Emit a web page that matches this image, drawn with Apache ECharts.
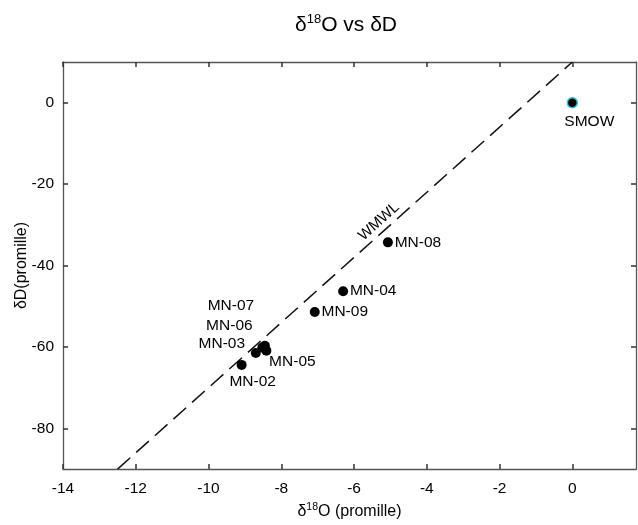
<!DOCTYPE html>
<html>
<head>
<meta charset="utf-8">
<script src="https://cdn.jsdelivr.net/npm/echarts@6/dist/echarts.min.js"></script>
<style>html,body{margin:0;padding:0;background:#fff;}#c{width:638px;height:525px;}</style>
</head>
<body>
<div id="c"></div>
<script>
// ---- data ----
var sampleNames = ['MN-02', 'MN-03', 'MN-05', 'MN-06', 'MN-07', 'MN-04', 'MN-09', 'MN-08'];
var sampleO18   = [-9.09, -8.70, -8.41, -8.52, -8.45, -6.30, -7.08, -5.07];
var sampleD     = [-64.4, -61.5, -60.9, -60.1, -59.7, -46.3, -51.4, -34.3];
var smowName = 'SMOW';
var smowO18 = [0];
var smowD = [0];
var wmwlO18 = [-12.5, 0];
var wmwlD = [-90, 10];
var wmwlLabelO18 = [-5.13];
var wmwlLabelD = [-31.0];
var xTicks = [-14, -12, -10, -8, -6, -4, -2, 0];
var yTicks = [-80, -60, -40, -20, 0];

// ---- label placement (style) ----
var labelOffsets = {
  'MN-02': [11, 17],
  'MN-03': [-34, -9],
  'MN-05': [26, 11],
  'MN-06': [-33, -22],
  'MN-07': [-34, -40],
  'MN-04': [30, 0],
  'MN-09': [30, 0],
  'MN-08': [30, 0]
};

var font = 'Liberation Sans, Arial, sans-serif';
var fs = 15.5;
var txt = '#000';

var samplesData = sampleNames.map(function (n, i) {
  return {
    name: n,
    value: [sampleO18[i], sampleD[i]],
    label: { offset: labelOffsets[n] }
  };
});

var wmwlData = wmwlO18.map(function (x, i) { return [x, wmwlD[i]]; });

var axisCommon = {
  type: 'value',
  axisLine: { show: true, onZero: false, lineStyle: { color: '#555', width: 1.3 } },
  axisTick: { show: true, inside: true, length: 5, lineStyle: { color: '#333', width: 1.5 } },
  splitLine: { show: false }
};

var chart = echarts.init(document.getElementById('c'));
chart.setOption({
  backgroundColor: '#fff',
  animation: false,
  title: {
    text: '{t|δ}{s|18}{t|O vs δD}',
    left: 290,
    top: 5,
    textStyle: {
      fontWeight: 'normal',
      rich: {
        t: { fontFamily: font, fontSize: 21, fontWeight: 'normal', color: txt, verticalAlign: 'bottom', lineHeight: 26 },
        s: { fontFamily: font, fontSize: 13, fontWeight: 'normal', color: txt, verticalAlign: 'bottom', lineHeight: 26, padding: [0, 0, 10, 0] }
      }
    }
  },
  grid: { left: 63, right: 2, top: 62, bottom: 52, containLabel: false },
  xAxis: [
    Object.assign({}, axisCommon, {
      min: -14, max: 1.75,
      position: 'bottom',
      axisTick: Object.assign({}, axisCommon.axisTick, { customValues: xTicks }),
      axisLabel: { customValues: xTicks, fontFamily: font, fontSize: fs, color: txt, margin: 12 },
      name: '{t|δ}{s|18}{t|O (promille)}',
      nameLocation: 'middle',
      nameGap: 30,
      nameTextStyle: {
        rich: {
          t: { fontFamily: font, fontSize: 16, color: txt, verticalAlign: 'bottom', lineHeight: 20 },
          s: { fontFamily: font, fontSize: 10.5, color: txt, verticalAlign: 'bottom', lineHeight: 20, padding: [0, 0, 7, 0] }
        }
      }
    }),
    Object.assign({}, axisCommon, {
      min: -14, max: 1.75,
      position: 'top',
      axisTick: Object.assign({}, axisCommon.axisTick, { customValues: xTicks }),
      axisLabel: { show: false }
    })
  ],
  yAxis: [
    Object.assign({}, axisCommon, {
      min: -90, max: 10,
      position: 'left',
      axisTick: Object.assign({}, axisCommon.axisTick, { customValues: yTicks }),
      axisLabel: { customValues: yTicks, fontFamily: font, fontSize: fs, color: txt, margin: 9 },
      name: 'δD(promille)',
      nameLocation: 'middle',
      nameGap: 33,
      nameMoveOverlap: false,
      nameTextStyle: { fontFamily: font, fontSize: 16, color: txt }
    }),
    Object.assign({}, axisCommon, {
      min: -90, max: 10,
      position: 'right',
      axisTick: Object.assign({}, axisCommon.axisTick, { customValues: yTicks }),
      axisLabel: { show: false }
    })
  ],
  series: [
    {
      type: 'line',
      data: wmwlData,
      showSymbol: false,
      symbol: 'none',
      lineStyle: { color: '#111', width: 1.5, type: [17, 8] },
      silent: true,
      z: 1
    },
    {
      type: 'scatter',
      data: wmwlLabelO18.map(function (x, i) { return [x, wmwlLabelD[i]]; }),
      symbolSize: 0,
      itemStyle: { opacity: 1 },
      label: {
        show: true,
        formatter: 'WMWL',
        position: 'inside',
        rotate: 42,
        offset: [0, -10],
        fontFamily: font,
        fontSize: 15,
        color: txt
      },
      silent: true,
      z: 2
    },
    {
      type: 'scatter',
      data: samplesData,
      symbolSize: 10,
      itemStyle: { color: '#000', opacity: 1 },
      label: {
        show: true,
        formatter: '{b}',
        position: 'inside',
        align: 'center',
        verticalAlign: 'middle',
        fontFamily: font,
        fontSize: fs,
        color: txt
      },
      z: 3
    },
    {
      type: 'scatter',
      data: smowO18.map(function (x, i) { return { name: smowName, value: [x, smowD[i]] }; }),
      symbolSize: 10,
      itemStyle: { color: '#000', opacity: 1, borderColor: '#2ec4dc', borderWidth: 1.5 },
      label: {
        show: true,
        formatter: '{b}',
        position: 'inside',
        offset: [17, 19],
        fontFamily: font,
        fontSize: fs,
        color: txt
      },
      z: 3
    }
  ]
});
</script>
</body>
</html>
